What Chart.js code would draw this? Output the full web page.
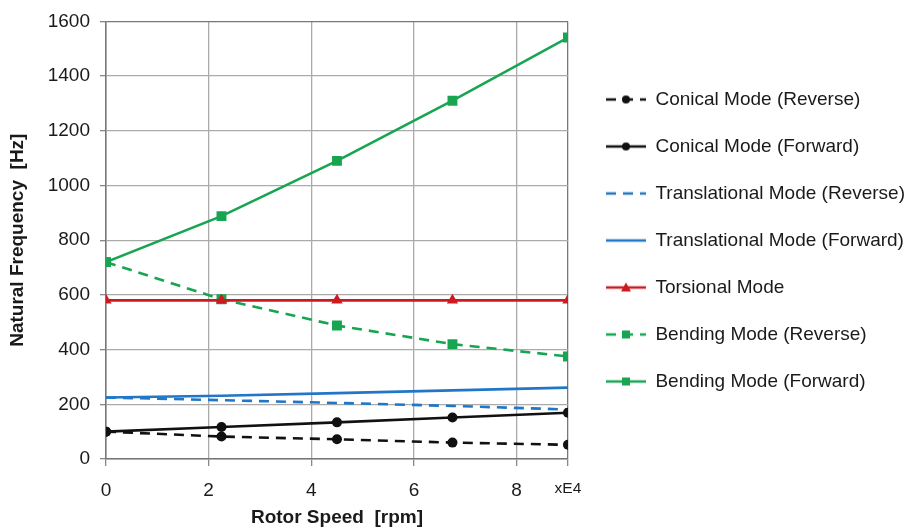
<!DOCTYPE html>
<html>
<head>
<meta charset="utf-8">
<script src="https://cdn.jsdelivr.net/npm/chart.js@4"></script>
<style>
  html, body { margin: 0; padding: 0; background: #fff; }
  #wrap { width: 908px; height: 529px; }
</style>
</head>
<body>
<div id="wrap"><canvas id="modeChart" width="908" height="529"></canvas></div>
<script>
// rotor speed in units of 1E4 rpm
const speeds = [0, 2.25, 4.5, 6.75, 9];

const conicalReverse = [100, 82, 72, 60, 52];
const conicalForward = [100, 117, 134, 152, 169];
const translationalReverse = [225, 215, 205, 194, 181];
const translationalForward = [225, 231, 241, 251, 261];
const torsional = [580, 580, 580, 580, 580];
const bendingReverse = [720, 584, 488, 420, 375];
const bendingForward = [720, 888, 1090, 1310, 1541];

const xTicks = [0, 2, 4, 6, 8, 9];
const yTicks = [0, 200, 400, 600, 800, 1000, 1200, 1400, 1600];

const BLACK = '#111111';
const BLUE = '#2176c7';
const RED = '#cc1a20';
const GREEN = '#18a552';
const DASH = [10, 7];

function points(values) {
    return values.map((v, i) => ({ x: speeds[i], y: v }));
}

// small picture for the legend: line sample with marker in the middle
function legendIcon(color, dashed, marker) {
    const c = document.createElement('canvas');
    c.width = 50;
    c.height = 16;
    const g = c.getContext('2d');
    g.strokeStyle = color;
    g.fillStyle = color;
    g.lineWidth = 2.6;
    if (dashed) g.setLineDash(DASH);
    g.beginPath();
    g.moveTo(10, 8);
    g.lineTo(50, 8);
    g.stroke();
    g.setLineDash([]);
    const cx = 30;
    if (marker === 'circle') {
        g.beginPath();
        g.arc(cx, 8, 4, 0, Math.PI * 2);
        g.fill();
    } else if (marker === 'rect') {
        g.fillRect(cx - 4, 4, 8, 8);
    } else if (marker === 'triangle') {
        g.beginPath();
        g.moveTo(cx, 3);
        g.lineTo(cx + 5, 12);
        g.lineTo(cx - 5, 12);
        g.closePath();
        g.fill();
    }
    return c;
}

function series(label, values, color, dashed, marker, radius) {
    return {
        label: label,
        data: points(values),
        borderColor: color,
        backgroundColor: color,
        borderWidth: 2.6,
        borderDash: dashed ? DASH : [],
        pointStyle: marker || 'circle',
        pointRadius: marker ? radius : 0,
        pointHoverRadius: marker ? radius : 0,
        pointBorderWidth: 0,
        tension: 0,
        legendImg: legendIcon(color, dashed, marker)
    };
}

const datasets = [
    series('Conical Mode (Reverse)', conicalReverse, BLACK, true, 'circle', 5),
    series('Conical Mode (Forward)', conicalForward, BLACK, false, 'circle', 5),
    series('Translational Mode (Reverse)', translationalReverse, BLUE, true, null, 0),
    series('Translational Mode (Forward)', translationalForward, BLUE, false, null, 0),
    series('Torsional Mode', torsional, RED, false, 'triangle', 6.5),
    series('Bending Mode (Reverse)', bendingReverse, GREEN, true, 'rect', 7),
    series('Bending Mode (Forward)', bendingForward, GREEN, false, 'rect', 7)
];

const font = 'Liberation Sans, Arial, sans-serif';

new Chart(document.getElementById('modeChart'), {
    type: 'line',
    data: { datasets: datasets },
    options: {
        responsive: false,
        animation: false,
        layout: { padding: { top: 6, right: -7, bottom: 0, left: 0 } },
        plugins: {
            tooltip: { enabled: false },
            legend: {
                position: 'right',
                align: 'start',
                maxWidth: 420,
                title: { display: true, text: ' ', font: { size: 10 }, padding: { top: 44, bottom: 0 } },
                labels: {
                    usePointStyle: true,
                    pointStyleWidth: 50,
                    padding: 28,
                    color: '#1a1a1a',
                    font: { family: font, size: 19 },
                    generateLabels(chart) {
                        const items = Chart.defaults.plugins.legend.labels.generateLabels(chart);
                        items.forEach(it => { it.pointStyle = chart.data.datasets[it.datasetIndex].legendImg; });
                        return items;
                    }
                }
            }
        },
        scales: {
            x: {
                type: 'linear',
                min: 0,
                max: 9,
                afterBuildTicks(scale) { scale.ticks = xTicks.map(v => ({ value: v })); },
                afterFit(scale) { scale.height = 70; },
                border: { display: true, color: '#777', width: 1.5 },
                grid: {
                    color: ctx => ctx.tick && ctx.tick.value === 9 ? '#777' : '#aaa',
                    lineWidth: 1.3,
                    tickLength: 7,
                    tickColor: '#888'
                },
                ticks: {
                    color: '#1a1a1a',
                    padding: 13,
                    font: ctx => ({ family: font, size: ctx.tick && ctx.tick.value === 9 ? 15.5 : 19 }),
                    callback: v => v === 9 ? 'xE4' : String(v)
                },
                title: {
                    display: true,
                    text: 'Rotor Speed  [rpm]',
                    color: '#1a1a1a',
                    font: { family: font, size: 19, weight: 'bold' },
                    padding: { top: 0, bottom: 0 }
                }
            },
            y: {
                min: 0,
                max: 1600,
                afterBuildTicks(scale) { scale.ticks = yTicks.map(v => ({ value: v })); },
                afterFit(scale) { scale.width = 106; },
                border: { display: true, color: '#777', width: 1.5 },
                grid: {
                    color: ctx => ctx.tick && ctx.tick.value === 1600 ? '#777' : '#aaa',
                    lineWidth: 1.3,
                    tickLength: 6,
                    tickColor: '#888'
                },
                ticks: {
                    color: '#1a1a1a',
                    padding: 10,
                    font: { family: font, size: 19 },
                    callback: v => String(v)
                },
                title: {
                    display: true,
                    text: 'Natural Frequency  [Hz]',
                    color: '#1a1a1a',
                    font: { family: font, size: 19, weight: 'bold' },
                    padding: { top: 6, bottom: 0 }
                }
            }
        }
    }
});
</script>
</body>
</html>
